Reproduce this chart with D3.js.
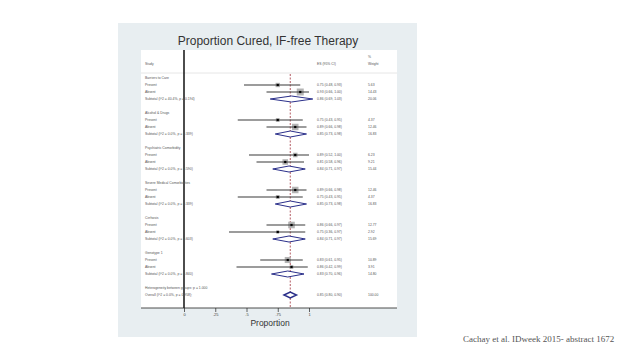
<!DOCTYPE html>
<html><head><meta charset="utf-8">
<script src="https://cdn.jsdelivr.net/npm/d3@7"></script>
<style>body{margin:0;background:#fff;}svg{display:block;}</style>
</head><body>
<script>
const groups = ["Barriers to Care","Alcohol & Drugs","Psychiatric Comorbidity","Severe Medical Comorbidities","Cirrhosis","Genotype 1"];
const subLabels = ["Present","Absent"];
const presentES = [0.75,0.75,0.89,0.89,0.86,0.83];
const presentLo = [0.48,0.43,0.52,0.66,0.66,0.61];
const presentHi = [0.93,0.95,1.00,0.98,0.97,0.95];
const presentW  = [5.63,4.37,6.23,12.46,12.77,10.89];
const absentES  = [0.93,0.89,0.81,0.75,0.75,0.86];
const absentLo  = [0.66,0.66,0.58,0.43,0.36,0.42];
const absentHi  = [1.00,0.98,0.96,0.95,0.97,0.99];
const absentW   = [14.43,12.46,9.21,4.37,2.92,3.91];
const subES = [0.86,0.85,0.84,0.85,0.84,0.83];
const subLo = [0.69,0.73,0.71,0.73,0.71,0.70];
const subHi = [1.03,0.98,0.97,0.98,0.97,0.96];
const subW  = [20.06,16.83,15.44,16.83,15.69,14.80];
const subI2 = ["40.4","0.0","0.0","0.0","0.0","0.0"];
const subP  = ["0.194","0.339","0.590","0.339","0.603","0.840"];
const overall = {es:0.85, lo:0.80, hi:0.90, w:100.00, i2:"0.0", p:"0.958"};
const betweenP = "1.000";
const tickVals = [0,0.25,0.5,0.75,1];
const tickLabels = ["0",".25",".5",".75","1"];

const W=638,H=359;
const svg=d3.select("body").append("svg").attr("width",W).attr("height",H);
const font="Liberation Sans, Arial, sans-serif";

// panel
svg.append("rect").attr("x",118).attr("y",23).attr("width",299).attr("height",314).attr("fill","#e8eef1");
svg.append("rect").attr("x",141).attr("y",50).attr("width",256).attr("height",258).attr("fill","#ffffff");

svg.append("text").attr("x",268).attr("y",45).attr("text-anchor","middle")
  .attr("font-family",font).attr("font-size",12).attr("fill","#333").text("Proportion Cured, IF-free Therapy");

const x=d3.scaleLinear().domain([0,1]).range([184,309]);
const y=d3.scaleLinear().domain([0,31]).range([78,295]);

// build rows
const rows=[];
groups.forEach((g,i)=>{
  const b=i*5;
  rows.push({r:b,label:g,type:"head"});
  rows.push({r:b+1,label:subLabels[0],type:"study",es:presentES[i],lo:presentLo[i],hi:presentHi[i],w:presentW[i]});
  rows.push({r:b+2,label:subLabels[1],type:"study",es:absentES[i],lo:absentLo[i],hi:absentHi[i],w:absentW[i]});
  rows.push({r:b+3,label:`Subtotal  (I^2 = ${subI2[i]}%, p = ${subP[i]})`,type:"sub",es:subES[i],lo:subLo[i],hi:subHi[i],w:subW[i]});
});
rows.push({r:30,label:`Heterogeneity between groups: p = ${betweenP}`,type:"head"});
rows.push({r:31,label:`Overall  (I^2 = ${overall.i2}%, p = ${overall.p});`,type:"sub",es:overall.es,lo:overall.lo,hi:overall.hi,w:overall.w});

const fs=3.4, tc="#555";
// header
svg.append("text").attr("x",145).attr("y",64).attr("dy","0.35em").attr("font-family",font).attr("font-size",fs).attr("fill",tc).text("Study");
svg.append("text").attr("x",317).attr("y",64).attr("dy","0.35em").attr("font-family",font).attr("font-size",fs).attr("fill",tc).text("ES (95% CI)");
svg.append("text").attr("x",368).attr("y",57).attr("dy","0.35em").attr("font-family",font).attr("font-size",fs).attr("fill",tc).text("%");
svg.append("text").attr("x",368).attr("y",64).attr("dy","0.35em").attr("font-family",font).attr("font-size",fs).attr("fill",tc).text("Weight");
svg.append("line").attr("x1",141).attr("x2",397).attr("y1",73).attr("y2",73).attr("stroke","#e6e6e6").attr("stroke-width",1);

// zero line
svg.append("line").attr("x1",x(0)).attr("x2",x(0)).attr("y1",50).attr("y2",308).attr("stroke","#000").attr("stroke-width",1.4);
// overall dashed line
svg.append("line").attr("x1",x(overall.es)).attr("x2",x(overall.es)).attr("y1",74).attr("y2",308)
  .attr("stroke","#a0303a").attr("stroke-width",0.8).attr("stroke-dasharray","2,1.5");

// labels
svg.append("g").selectAll("text").data(rows).join("text")
  .attr("x",145).attr("y",d=>y(d.r)).attr("dy","0.35em").attr("font-family",font).attr("font-size",fs).attr("fill",tc)
  .text(d=>d.label);
const f2=d3.format(".2f");
const est=rows.filter(d=>d.type!=="head");
svg.append("g").selectAll("text").data(est).join("text")
  .attr("x",317).attr("y",d=>y(d.r)).attr("dy","0.35em").attr("font-family",font).attr("font-size",fs).attr("fill",tc)
  .text(d=>`${f2(d.es)} (${f2(d.lo)}, ${f2(d.hi)})`);
svg.append("g").selectAll("text").data(est).join("text")
  .attr("x",368).attr("y",d=>y(d.r)).attr("dy","0.35em").attr("font-family",font).attr("font-size",fs).attr("fill",tc)
  .text(d=>f2(d.w));

// studies
const studies=rows.filter(d=>d.type==="study");
const side=w=>1.84*Math.sqrt(w);
svg.append("g").selectAll("rect").data(studies).join("rect")
  .attr("x",d=>x(d.es)-side(d.w)/2).attr("y",d=>y(d.r)-side(d.w)/2)
  .attr("width",d=>side(d.w)).attr("height",d=>side(d.w)).attr("fill","#b4b4b4");
svg.append("g").selectAll("line").data(studies).join("line")
  .attr("x1",d=>x(d.lo)).attr("x2",d=>x(d.hi)).attr("y1",d=>y(d.r)).attr("y2",d=>y(d.r))
  .attr("stroke","#3a3a3a").attr("stroke-width",1.1);
svg.append("g").selectAll("rect").data(studies).join("rect")
  .attr("x",d=>x(d.es)-1.1).attr("y",d=>y(d.r)-1.1).attr("width",2.2).attr("height",2.2).attr("fill","#000");

// diamonds
const subs=rows.filter(d=>d.type==="sub");
svg.append("g").selectAll("path").data(subs).join("path")
  .attr("d",d=>{const yy=y(d.r);return `M${x(d.lo)},${yy}L${x(d.es)},${yy-3}L${x(d.hi)},${yy}L${x(d.es)},${yy+3}Z`;})
  .attr("fill","#fff").attr("stroke","#2a2f8a").attr("stroke-width",d=>d.w>=100?1.5:1);

// axis
svg.append("line").attr("x1",141).attr("x2",397).attr("y1",308).attr("y2",308).attr("stroke","#222").attr("stroke-width",0.8);
const ax=svg.append("g").attr("transform","translate(0,308)")
  .call(d3.axisBottom(x).tickValues(tickVals).tickFormat((d,i)=>tickLabels[i]).tickSize(4).tickPadding(1.5));
ax.select(".domain").remove();
ax.selectAll("line").attr("stroke","#222").attr("stroke-width",0.7);
ax.selectAll("text").attr("font-family",font).attr("font-size",4).attr("fill","#444");
svg.append("text").attr("x",270).attr("y",326).attr("text-anchor","middle").attr("font-family",font).attr("font-size",8.5).attr("fill","#333").text("Proportion");

svg.append("text").attr("x",463).attr("y",342).attr("font-family","Liberation Serif, Times New Roman, serif").attr("font-size",9).attr("fill","#555")
  .text("Cachay et al. IDweek 2015- abstract 1672");
</script>
</body></html>
